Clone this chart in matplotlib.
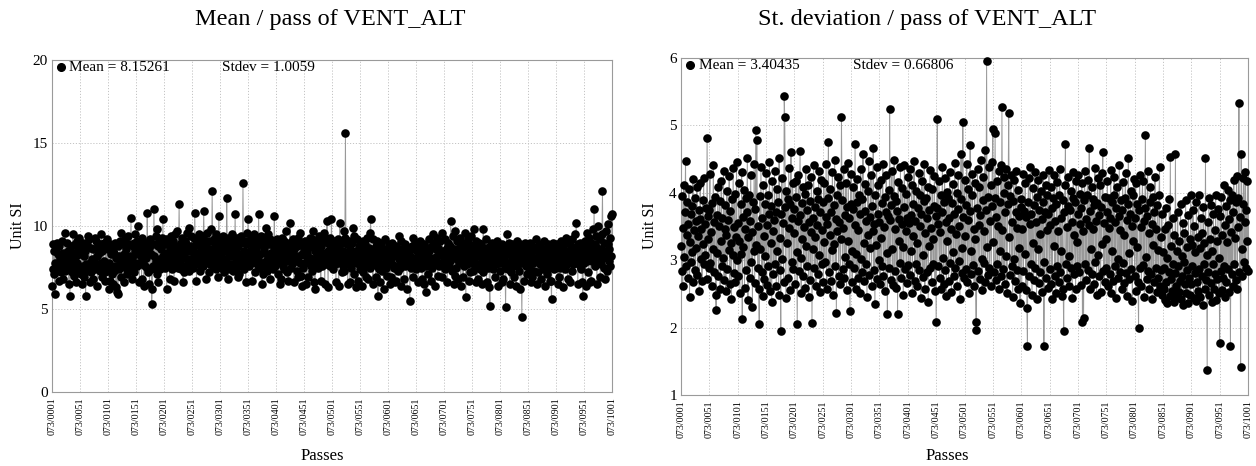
import matplotlib
matplotlib.use("Agg")
import matplotlib.pyplot as plt
import numpy as np

plt.rcParams['font.family'] = ['Liberation Serif', 'DejaVu Serif']

# Per-pass mean of VENT_ALT (passes 073/0001 .. 073/1001)
mean_per_pass = [
    6.4, 7.4, 8.9, 7.1, 8.5, 5.9, 7.8, 8.6, 7.3, 9.0, 7.7, 8.3, 6.7, 8.8, 7.5, 8.1, 7.2, 9.1, 7.9, 8.4, 6.8, 8.0, 7.6, 9.6, 7.3, 8.2, 9.0, 7.4, 8.5, 7.8, 6.5, 8.3, 5.8, 7.7, 8.8, 7.2, 8.1, 9.5, 7.6, 8.4, 7.0, 8.9, 6.6, 8.2, 7.8, 9.1, 7.3, 8.6, 9.3, 8.3,
    7.4, 8.8, 7.1, 8.4, 6.5, 9.0, 7.6, 8.2, 6.9, 8.5, 5.8, 7.7, 8.9, 7.3, 9.4, 7.6, 9.2, 7.8, 6.6, 7.2, 8.7, 7.5, 8.0, 6.8, 8.6, 7.9, 9.3, 7.4, 9.1, 7.7, 8.2, 6.4, 8.8, 7.6, 8.4, 7.3, 8.9, 7.8, 9.5, 6.9, 8.5, 7.5, 9.0, 7.9, 6.7, 7.2, 8.7, 7.6, 9.2, 7.4,
    8.6, 7.8, 6.2, 6.7, 8.9, 7.5, 8.3, 7.1, 8.7, 6.5, 8.4, 7.3, 9.0, 7.6, 6.3, 8.1, 6.0, 8.8, 5.9, 8.2, 7.4, 9.1, 7.8, 9.6, 6.9, 8.0, 7.6, 8.9, 6.6, 8.3, 7.9, 9.2, 7.5, 8.6, 7.1, 9.4, 7.8, 8.9, 7.3, 8.2, 7.7, 10.5, 8.0, 6.8, 8.8, 7.6, 9.0, 7.2, 8.5, 9.5,
    8.3, 7.6, 9.1, 10.0, 7.8, 8.6, 6.6, 8.9, 7.7, 8.2, 6.8, 9.3, 7.9, 8.5, 6.4, 8.8, 7.6, 9.0, 8.1, 7.5, 10.8, 8.4, 7.2, 8.7, 6.5, 9.2, 7.4, 8.3, 5.3, 6.2, 8.9, 7.6, 11.0, 8.2, 7.5, 9.4, 7.9, 9.8, 7.1, 8.8, 6.6, 9.1, 8.0, 7.4, 8.6, 7.8, 9.3, 7.6, 10.4, 8.2,
    7.8, 8.9, 7.5, 9.2, 7.9, 6.2, 8.4, 7.6, 9.0, 8.1, 6.8, 8.7, 9.4, 7.8, 8.5, 7.4, 9.1, 8.0, 6.7, 9.5, 8.3, 7.6, 8.8, 7.9, 9.7, 7.5, 8.6, 11.3, 8.2, 7.8, 9.0, 7.4, 8.7, 9.3, 6.6, 8.4, 7.2, 9.1, 8.1, 7.6, 8.9, 9.6, 7.8, 8.5, 7.3, 9.9, 8.0, 7.7, 8.8, 9.4,
    7.9, 8.6, 7.5, 9.3, 8.2, 10.8, 7.8, 8.9, 6.7, 9.1, 8.4, 7.7, 9.5, 8.0, 7.3, 8.8, 9.2, 7.9, 8.5, 7.6, 9.4, 10.9, 8.1, 7.8, 9.0, 6.8, 8.7, 9.6, 7.9, 8.3, 7.2, 9.1, 8.6, 7.7, 9.8, 8.0, 12.1, 8.4, 7.6, 9.2, 7.9, 8.8, 9.5, 7.4, 8.2, 9.0, 6.9, 8.6, 10.6, 8.1,
    7.7, 9.2, 8.3, 7.5, 8.9, 9.4, 7.8, 8.5, 7.2, 9.1, 8.0, 7.6, 11.7, 8.7, 9.3, 6.8, 8.4, 7.4, 9.0, 8.2, 7.7, 9.5, 8.6, 7.3, 8.9, 9.2, 7.8, 10.7, 8.1, 7.5, 9.3, 8.4, 6.9, 8.8, 7.1, 9.0, 8.3, 7.6, 9.4, 8.0, 7.8, 12.6, 8.5, 7.4, 9.1, 8.2, 6.6, 8.9, 9.6, 7.9,
    10.4, 8.3, 7.6, 9.0, 8.5, 7.8, 9.3, 8.1, 6.7, 8.8, 9.5, 7.9, 8.4, 7.2, 9.1, 8.6, 7.7, 9.2, 8.0, 10.7, 7.5, 8.9, 8.3, 9.4, 7.8, 6.5, 7.1, 9.0, 8.7, 7.6, 9.3, 8.4, 7.9, 9.9, 7.3, 9.5, 8.1, 7.7, 8.9, 9.2, 6.8, 8.4, 7.8, 9.1, 8.2, 7.4, 8.7, 10.6, 8.0, 7.6,
    8.9, 7.8, 9.2, 8.3, 7.1, 8.6, 9.0, 6.5, 8.4, 6.8, 9.3, 8.0, 7.6, 8.8, 9.1, 7.4, 8.5, 7.9, 9.7, 8.2, 7.2, 8.7, 6.7, 9.0, 8.3, 10.2, 7.5, 8.9, 8.1, 7.7, 9.2, 8.4, 6.6, 8.6, 7.9, 9.1, 8.0, 7.3, 8.8, 6.9, 9.3, 8.2, 7.8, 9.6, 7.0, 9.0, 8.3, 6.4, 8.9, 7.5,
    8.6, 9.1, 7.8, 8.2, 6.5, 9.0, 8.4, 6.9, 8.7, 7.9, 9.3, 8.1, 7.6, 8.8, 7.3, 9.2, 9.7, 8.0, 6.6, 8.5, 6.2, 8.9, 7.8, 9.1, 8.3, 7.5, 8.6, 9.4, 7.9, 8.2, 6.7, 8.8, 7.6, 9.0, 8.4, 7.8, 9.6, 6.5, 9.2, 8.1, 7.7, 10.3, 8.5, 6.3, 8.9, 8.0, 9.3, 7.6, 8.3, 10.4,
    7.9, 8.7, 7.4, 9.1, 8.2, 7.7, 8.9, 6.6, 8.4, 7.8, 9.2, 8.1, 6.4, 8.6, 10.2, 7.9, 8.3, 7.2, 9.0, 8.5, 7.6, 9.7, 7.3, 9.3, 15.6, 8.0, 7.7, 8.9, 6.5, 8.4, 9.1, 7.8, 6.6, 8.6, 7.5, 9.0, 8.2, 7.9, 9.9, 7.1, 9.4, 8.3, 6.3, 8.5, 7.8, 9.2, 6.7, 8.1, 7.7, 8.8,
    7.4, 9.0, 8.3, 6.4, 8.6, 7.2, 9.1, 8.0, 7.6, 8.9, 6.9, 8.5, 9.3, 7.9, 8.2, 6.8, 8.7, 7.5, 9.6, 10.4, 8.1, 7.7, 8.4, 6.5, 9.2, 8.6, 7.8, 8.3, 6.9, 8.8, 7.6, 9.1, 5.8, 8.0, 7.4, 8.5, 6.6, 9.0, 8.2, 7.3, 8.7, 7.7, 6.2, 8.4, 7.8, 9.2, 8.1, 7.5, 8.6, 7.0,
    8.3, 7.8, 8.9, 6.5, 8.5, 6.9, 8.1, 7.7, 9.0, 8.2, 7.5, 8.7, 6.6, 8.4, 6.7, 8.8, 7.6, 8.2, 7.3, 9.4, 8.0, 7.5, 8.6, 6.4, 9.1, 8.3, 7.8, 8.5, 6.8, 8.1, 7.6, 8.9, 7.9, 8.4, 6.2, 8.7, 8.0, 7.7, 8.6, 5.5, 8.2, 7.5, 8.8, 7.9, 9.3, 6.9, 8.6, 7.6, 9.0, 8.1,
    7.4, 8.5, 7.9, 8.8, 6.6, 8.3, 7.7, 9.1, 8.0, 7.5, 8.6, 6.8, 8.2, 7.8, 8.9, 6.5, 8.4, 7.6, 6.0, 8.7, 7.9, 8.2, 7.1, 9.2, 8.5, 7.7, 8.0, 6.7, 8.8, 7.5, 9.5, 7.9, 9.0, 8.1, 6.4, 8.6, 7.8, 9.3, 8.2, 7.0, 8.7, 7.6, 8.4, 9.1, 7.8, 8.3, 6.9, 9.6, 7.7, 8.5,
    8.0, 7.4, 9.2, 8.4, 7.8, 8.7, 6.6, 9.0, 8.2, 7.6, 8.8, 7.9, 10.3, 8.5, 7.3, 8.1, 9.4, 6.5, 8.6, 7.0, 9.7, 8.3, 7.5, 9.1, 8.0, 6.8, 8.7, 7.8, 9.3, 8.2, 6.4, 8.5, 7.9, 9.0, 6.9, 8.4, 7.6, 9.6, 8.1, 5.7, 8.6, 7.7, 9.2, 8.3, 6.7, 8.9, 7.2, 8.0, 9.4, 7.8,
    8.5, 7.3, 8.8, 8.0, 9.8, 7.6, 8.4, 6.6, 9.1, 8.2, 6.8, 8.6, 7.7, 9.0, 8.3, 7.4, 8.9, 6.5, 8.1, 7.2, 9.8, 8.5, 7.6, 8.2, 7.9, 9.2, 6.6, 8.7, 8.0, 7.5, 8.4, 6.3, 5.2, 8.8, 7.6, 8.3, 9.0, 7.4, 8.6, 7.9, 8.1, 6.9, 8.9, 7.7, 8.4, 9.1, 6.4, 8.2, 7.8, 8.7,
    7.3, 8.5, 7.9, 8.9, 6.6, 8.2, 6.8, 8.7, 8.0, 7.5, 5.1, 8.4, 9.5, 7.8, 8.3, 7.4, 9.0, 6.5, 7.7, 8.6, 7.2, 8.9, 8.0, 7.6, 8.4, 6.9, 8.8, 7.9, 8.3, 6.4, 9.1, 8.2, 7.7, 8.5, 7.3, 8.9, 6.2, 8.1, 7.8, 4.5, 8.6, 7.9, 8.4, 6.7, 9.0, 8.2, 7.6, 8.8, 7.1, 8.3,
    7.9, 8.6, 7.5, 9.0, 8.2, 6.6, 8.4, 6.9, 8.8, 7.8, 8.1, 7.3, 8.7, 7.9, 9.2, 8.0, 6.5, 8.5, 7.2, 8.9, 8.3, 7.7, 8.4, 6.8, 8.7, 7.9, 8.2, 7.4, 9.1, 8.0, 6.4, 8.6, 7.8, 8.3, 7.1, 8.9, 8.1, 7.5, 8.4, 6.7, 8.7, 6.7, 5.6, 8.2, 7.7, 9.0, 8.3, 7.4, 8.6, 7.9,
    8.2, 7.6, 8.9, 6.5, 8.5, 6.9, 8.7, 8.0, 7.5, 9.1, 8.3, 7.8, 8.6, 6.3, 8.9, 8.1, 7.4, 9.3, 8.4, 7.7, 8.2, 6.8, 9.0, 7.9, 8.5, 6.6, 8.8, 8.2, 7.3, 9.2, 8.0, 7.7, 8.6, 7.9, 9.5, 8.3, 10.2, 7.8, 8.4, 6.5, 8.9, 8.1, 7.6, 9.0, 8.5, 7.4, 8.7, 6.6, 5.8, 8.2,
    7.8, 9.1, 8.4, 6.4, 8.8, 9.6, 7.9, 8.3, 7.2, 9.3, 8.6, 6.6, 9.0, 6.7, 8.5, 7.9, 9.8, 8.2, 11.0, 7.6, 8.9, 8.0, 9.4, 6.5, 8.7, 10.0, 7.8, 8.4, 9.2, 6.9, 8.6, 7.7, 9.5, 12.1, 8.1, 7.5, 9.0, 8.3, 6.8, 9.7, 8.5, 7.3, 8.9, 10.1, 7.9, 8.6, 9.3, 7.6, 8.2, 10.6,
    10.7,
]

# Per-pass standard deviation of VENT_ALT
stdev_per_pass = [
    3.21, 2.84, 3.95, 2.62, 3.48, 4.12, 3.05, 3.72, 4.47, 2.91, 3.38, 3.86, 2.73, 3.54, 4.05, 2.45, 3.27, 3.69, 2.98, 3.81, 3.12, 4.21, 2.67, 3.45, 3.92, 2.86, 3.58, 3.18, 4.08, 2.78, 3.36, 3.75, 2.55, 3.61, 4.15, 3.02, 3.47, 2.69, 3.89, 3.24, 4.22, 2.94, 3.53, 3.08, 3.78, 2.72, 4.81, 3.31, 3.66, 2.88,
    3.74, 4.28, 2.96, 3.42, 2.61, 3.85, 3.16, 4.41, 2.83, 3.57, 3.94, 2.49, 2.26, 3.67, 3.11, 4.09, 2.76, 3.51, 3.88, 2.58, 3.29, 4.18, 2.92, 3.63, 3.04, 4.33, 2.71, 3.46, 3.82, 2.54, 3.37, 4.02, 2.87, 3.59, 3.15, 4.25, 2.64, 3.73, 3.26, 2.43, 3.91, 3.07, 4.37, 2.81, 3.49, 3.98, 2.68, 3.34, 4.46, 3.01,
    3.55, 2.77, 4.14, 3.28, 2.52, 3.83, 3.09, 4.31, 2.13, 3.64, 3.19, 4.04, 2.59, 3.47, 3.92, 2.85, 3.71, 4.52, 2.41, 3.35, 3.96, 2.74, 3.58, 4.26, 2.97, 3.42, 2.31, 3.87, 3.13, 4.43, 2.66, 3.76, 4.93, 3.22, 4.78, 2.89, 3.51, 2.57, 2.05, 3.95, 3.17, 4.38, 2.82, 3.63, 2.47, 4.11, 3.36, 2.72, 3.84, 3.06,
    4.29, 2.63, 3.52, 3.97, 2.91, 3.68, 4.46, 2.54, 3.25, 3.81, 2.38, 4.17, 3.44, 2.79, 3.59, 4.33, 2.95, 3.72, 2.61, 4.06, 3.14, 3.87, 2.48, 4.51, 3.33, 2.86, 1.95, 3.69, 4.22, 3.02, 3.55, 2.68, 5.44, 5.12, 3.79, 2.44, 4.02, 3.26, 3.91, 2.73, 4.37, 3.48, 2.56, 3.84, 4.61, 2.98, 3.63, 4.14, 2.87, 3.41,
    3.76, 2.65, 3.94, 4.18, 3.12, 2.05, 3.58, 4.27, 2.84, 3.67, 4.62, 3.03, 2.51, 3.85, 3.31, 4.09, 2.77, 3.49, 3.98, 2.59, 4.36, 3.21, 2.92, 3.74, 4.12, 2.46, 3.57, 3.88, 2.71, 3.42, 4.24, 2.07, 3.63, 3.16, 4.41, 2.88, 3.79, 3.34, 2.62, 4.03, 3.52, 2.79, 3.91, 4.33, 3.08, 2.53, 3.71, 4.19, 2.94, 3.45,
    3.86, 2.68, 4.15, 3.27, 2.97, 3.64, 4.42, 2.58, 3.53, 3.93, 4.76, 2.83, 3.38, 4.06, 2.69, 3.72, 3.15, 4.31, 2.49, 3.82, 3.24, 4.49, 2.91, 3.61, 2.22, 3.97, 3.43, 4.23, 2.76, 3.56, 4.11, 2.64, 3.32, 5.13, 3.89, 2.87, 3.48, 4.36, 2.73, 3.67, 3.05, 4.14, 2.56, 3.79, 3.29, 4.44, 2.95, 3.62, 2.25, 3.84,
    4.28, 3.14, 2.67, 3.76, 4.08, 2.89, 3.52, 4.72, 3.09, 2.58, 3.87, 4.21, 2.74, 3.45, 3.96, 2.51, 3.68, 4.35, 3.02, 2.83, 3.91, 4.57, 3.26, 2.69, 3.73, 4.13, 2.94, 3.58, 2.46, 4.02, 3.37, 4.47, 2.78, 3.64, 3.18, 4.26, 2.61, 3.81, 3.43, 4.66, 2.86, 3.54, 2.35, 3.97, 3.22, 4.38, 2.72, 3.69, 4.11, 3.01,
    3.57, 2.64, 4.19, 3.33, 2.92, 3.85, 4.43, 2.77, 3.49, 3.94, 2.55, 3.71, 4.27, 3.11, 2.20, 3.66, 4.04, 2.88, 5.24, 3.59, 2.71, 3.82, 4.32, 3.17, 2.63, 3.95, 4.49, 2.84, 3.46, 3.88, 2.59, 3.73, 2.20, 4.16, 3.28, 3.61, 2.96, 4.38, 2.74, 3.53, 4.07, 3.19, 2.48, 3.79, 4.41, 2.87, 3.44, 3.98, 2.66, 3.62,
    4.23, 2.93, 3.55, 4.36, 2.78, 3.67, 3.13, 4.12, 2.52, 3.84, 3.36, 4.47, 2.69, 3.58, 2.94, 4.02, 3.25, 2.61, 3.77, 4.29, 2.86, 3.51, 3.97, 2.44, 3.69, 4.18, 3.07, 2.75, 3.88, 4.43, 2.57, 3.41, 3.92, 2.82, 3.63, 4.09, 2.38, 3.74, 3.21, 4.34, 2.89, 3.48, 2.68, 4.06, 3.32, 2.94, 3.81, 4.25, 2.55, 3.66,
    2.08, 3.78, 5.10, 2.91, 3.54, 4.17, 2.73, 3.42, 3.96, 2.58, 3.71, 4.38, 3.04, 2.64, 3.87, 4.22, 2.85, 3.56, 2.47, 4.01, 3.28, 3.93, 2.69, 3.62, 4.31, 2.96, 3.47, 2.53, 3.85, 4.13, 3.12, 2.77, 3.68, 4.44, 2.88, 3.39, 3.99, 2.62, 3.76, 4.26, 2.99, 3.51, 2.42, 3.91, 4.57, 3.18, 2.81, 5.05, 3.64, 2.74,
    4.19, 3.36, 2.87, 3.82, 4.43, 2.68, 3.59, 4.05, 2.51, 3.73, 4.71, 3.14, 2.79, 3.97, 4.28, 2.93, 3.46, 2.62, 4.14, 3.31, 2.08, 1.97, 3.78, 4.36, 2.84, 3.52, 4.09, 2.72, 3.67, 4.49, 3.02, 2.56, 3.89, 4.24, 2.96, 3.43, 4.63, 2.67, 3.75, 5.96, 3.19, 2.78, 3.94, 4.38, 2.89, 3.58, 4.12, 2.61, 3.81, 4.46,
    4.95, 3.27, 2.83, 3.92, 4.88, 2.71, 3.64, 4.17, 2.94, 3.51, 4.32, 2.58, 3.86, 3.13, 4.41, 2.76, 5.28, 3.45, 2.87, 3.99, 4.23, 2.64, 3.72, 4.36, 3.06, 2.51, 3.83, 4.12, 5.19, 3.34, 2.78, 3.95, 4.27, 2.92, 3.57, 2.45, 3.88, 4.19, 3.02, 2.69, 3.71, 4.33, 2.85, 3.48, 4.04, 2.57, 3.66, 3.18, 2.36, 3.79,
    3.91, 2.62, 3.47, 4.28, 2.84, 3.73, 3.09, 4.15, 2.56, 3.64, 2.29, 1.73, 3.86, 4.22, 2.77, 3.53, 4.38, 2.94, 3.69, 2.48, 4.07, 3.25, 2.71, 3.82, 4.31, 2.89, 3.57, 2.43, 3.94, 3.16, 4.19, 2.66, 3.75, 3.39, 2.82, 4.02, 3.61, 2.53, 3.87, 4.26, 1.73, 2.97, 3.72, 4.11, 2.74, 3.45, 3.96, 2.59, 3.68, 4.34,
    2.87, 3.52, 4.09, 2.65, 3.78, 2.42, 3.93, 3.21, 4.27, 2.76, 3.58, 2.51, 3.84, 4.16, 2.92, 3.44, 2.68, 3.97, 4.35, 2.83, 3.62, 3.14, 2.47, 3.89, 2.58, 1.95, 3.71, 4.12, 4.72, 2.95, 3.49, 2.73, 3.81, 4.24, 3.06, 2.61, 3.74, 4.03, 2.88, 3.56, 2.44, 3.92, 4.31, 2.79, 3.38, 3.86, 2.57, 4.18, 3.27, 2.91,
    3.69, 4.26, 2.82, 3.54, 3.98, 2.63, 3.77, 4.14, 2.08, 3.43, 2.14, 3.89, 4.33, 2.95, 3.61, 2.71, 3.96, 4.19, 2.86, 3.52, 4.66, 2.58, 3.73, 3.17, 4.08, 2.79, 3.46, 3.91, 2.64, 3.82, 4.37, 2.97, 3.58, 2.49, 3.85, 4.22, 3.08, 2.76, 3.67, 4.12, 2.53, 3.79, 3.24, 4.29, 4.60, 2.84, 3.55, 2.67, 3.94, 3.32,
    2.88, 3.71, 4.17, 2.61, 3.48, 3.92, 2.79, 3.63, 4.34, 2.52, 3.86, 3.14, 2.69, 3.97, 4.23, 2.91, 3.57, 2.44, 3.78, 4.08, 3.02, 2.74, 3.66, 4.41, 2.83, 3.45, 3.89, 2.58, 3.74, 4.16, 2.96, 3.38, 2.66, 3.93, 4.29, 2.81, 3.59, 2.47, 3.84, 4.52, 3.11, 2.72, 3.69, 4.03, 2.87, 3.51, 2.39, 3.96, 3.28, 4.21,
    2.77, 3.62, 4.14, 2.54, 3.83, 3.19, 2.68, 1.99, 3.74, 4.27, 2.89, 3.49, 2.61, 3.91, 4.18, 2.93, 3.58, 2.46, 3.77, 4.86, 3.05, 2.72, 3.66, 4.32, 2.84, 3.41, 2.57, 3.87, 4.09, 2.79, 3.53, 2.42, 3.94, 3.22, 2.67, 3.71, 4.24, 2.88, 3.46, 2.53, 3.82, 3.15, 2.74, 3.96, 4.38, 2.61, 3.34, 2.86, 3.68, 2.49,
    3.12, 2.58, 2.89, 3.46, 2.41, 3.78, 2.67, 3.04, 2.36, 3.52, 2.83, 3.91, 2.47, 4.53, 2.72, 3.21, 2.55, 3.63, 2.94, 2.38, 3.37, 2.81, 4.57, 2.62, 3.14, 2.46, 3.72, 2.91, 2.53, 3.28, 2.69, 3.84, 2.43, 3.06, 2.77, 3.55, 2.34, 2.98, 3.41, 2.64, 3.89, 2.51, 3.19, 2.86, 2.37, 3.67, 2.73, 3.32, 2.48, 3.96,
    2.65, 3.23, 2.92, 3.74, 2.44, 3.51, 2.81, 3.12, 2.39, 3.86, 2.68, 3.34, 2.55, 3.97, 2.87, 3.18, 2.46, 3.62, 2.76, 3.41, 2.33, 3.79, 2.94, 3.26, 2.58, 4.51, 2.71, 3.08, 1.37, 3.57, 2.83, 3.92, 2.49, 3.31, 2.66, 3.82, 2.38, 3.14, 2.95, 3.68, 2.57, 3.45, 2.79, 3.97, 2.41, 3.29, 2.72, 3.76, 2.52, 3.03,
    1.77, 3.66, 2.84, 3.94, 2.56, 3.38, 2.73, 4.12, 2.91, 3.52, 2.45, 3.81, 2.68, 3.27, 4.04, 2.87, 3.61, 2.53, 3.89, 1.73, 3.42, 2.79, 3.96, 2.62, 3.71, 4.19, 2.94, 3.33, 2.71, 3.87, 4.25, 2.58, 3.49, 3.93, 5.33, 2.82, 3.64, 1.42, 4.57, 3.17, 2.76, 3.84, 4.22, 2.97, 3.56, 4.31, 2.89, 3.75, 3.29, 4.18,
    2.84,
]

first_pass = 1
tick_step = 50
cycle = "073"

mean_stats = ("Mean = 8.15261", "Stdev = 1.0059")
stdev_stats = ("Mean = 3.40435", "Stdev = 0.66806")

passes = np.arange(first_pass, first_pass + len(mean_per_pass))
tick_pos = np.arange(first_pass, passes[-1] + 1, tick_step)
tick_lbl = [f"{cycle}/{p:04d}" for p in tick_pos]

fig = plt.figure(figsize=(12.56, 4.66), dpi=100)
W, H = 1256, 466


def panel(rect_px, values, ylim, yticks, stats, title, title_x, xlabel_x, ylabel_x):
    x0, y0, x1, y1 = rect_px
    ax = fig.add_axes([x0 / W, 1 - y1 / H, (x1 - x0) / W, (y1 - y0) / H])
    ax.plot(passes, values, color="#999999", lw=0.7, zorder=2)
    ax.plot(passes, values, ls="none", marker="o", ms=6.2, mfc="black",
            mec="black", mew=0, zorder=3, clip_on=False)
    ax.set_xlim(passes[0], passes[-1])
    ax.set_ylim(*ylim)
    ax.set_xticks(tick_pos)
    ax.set_xticklabels(tick_lbl, rotation=90, fontsize=7.2)
    ax.set_yticks(yticks)
    ax.set_yticklabels([str(t) for t in yticks], fontsize=11)
    ax.tick_params(length=0, pad=3)
    ax.tick_params(axis="x", pad=4)
    ax.grid(True, ls=(0, (1.2, 1.8)), color="#c4c4c4", lw=0.7)
    ax.set_axisbelow(True)
    for s in ax.spines.values():
        s.set_color("#9a9a9a")
        s.set_linewidth(0.8)
    # statistics legend row
    ax.plot([0.016], [0.978], marker="o", ms=5.5, color="black",
            transform=ax.transAxes, clip_on=False, zorder=4)
    ax.text(0.031, 0.978, stats[0], transform=ax.transAxes, fontsize=11,
            va="center", ha="left", zorder=4)
    ax.text(0.303, 0.978, stats[1], transform=ax.transAxes, fontsize=11,
            va="center", ha="left", zorder=4)
    fig.text(title_x / W, 1 - 19 / H, title, fontsize=17.5, ha="center", va="center")
    fig.text(xlabel_x / W, 1 - 456 / H, "Passes", fontsize=12, ha="center", va="center")
    fig.text(ylabel_x / W, 1 - 226 / H, "Unit SI", fontsize=11.5, ha="center",
             va="center", rotation=90)
    return ax


panel((52, 60, 612, 392), mean_per_pass, (0, 20), [0, 5, 10, 15, 20],
      mean_stats, "Mean / pass of VENT_ALT", 330, 322, 18)
panel((681, 58, 1248, 395), stdev_per_pass, (1, 6), [1, 2, 3, 4, 5, 6],
      stdev_stats, "St. deviation / pass of VENT_ALT", 927, 947, 650)

fig.savefig("out.png", dpi=100)
